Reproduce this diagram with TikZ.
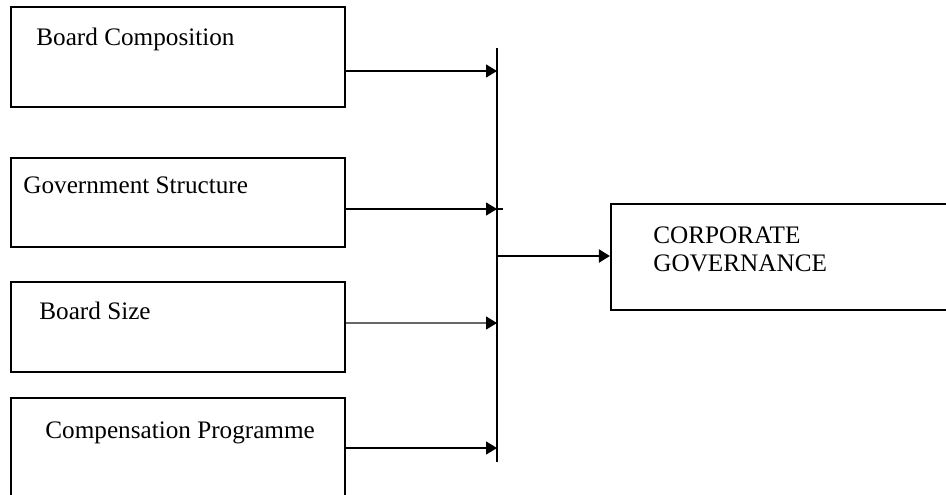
\documentclass[tikz,border=0pt]{standalone}
\usepackage{fontspec}
\setmainfont{Liberation Serif}
\usetikzlibrary{arrows.meta}

\begin{document}
\begin{tikzpicture}[x=0.5pt, y=-0.5pt,
    box/.style={draw, line width=0.6pt, minimum width=167pt, inner sep=0pt},
    lbl/.style={anchor=base west, inner sep=0pt, font=\fontsize{12.6}{14}\selectfont},
    feed/.style={-{Triangle[length=5.5pt,width=6.5pt,color=black]}, line width=0.7pt}]
    \useasboundingbox (0,0) rectangle (946,494);

    % Factors
    \node[box, minimum height=50pt] (comp) at (178,57) {};
    \node[box, minimum height=44.5pt] (govt) at (178,202.5) {};
    \node[box, minimum height=45pt] (size) at (178,327) {};
    \node[box, minimum height=50pt] (prog) at (178,448) {};
    \node[lbl] (compt) at (36,45) {Board Composition};
    \node[lbl] (govtt) at (23,193) {Government Structure};
    \node[lbl] (sizet) at (39,319) {Board Size};
    \node[lbl] (progt) at (45,438) {Compensation Programme};

    % Outcome
    \node[draw, line width=1.1pt, minimum width=179.5pt, minimum height=53pt, inner sep=0pt] (cg) at (790.5,257) {};
    \node[lbl, anchor=north west, align=left] (cgt) at (653,226) {CORPORATE\\GOVERNANCE};

    % Bus line
    \coordinate (bt) at (497,48);
    \coordinate (bb) at (497,462);
    \coordinate (i1) at (497,71);
    \coordinate (i2) at (497,209);
    \coordinate (i3) at (497,323);
    \coordinate (i4) at (497,448);
    \coordinate (o) at (497,256);
    \draw[line width=0.6pt] (bt) -- (bb);

    % Arrows
    \draw[feed] (comp.east |- i1) -- (i1);
    \draw[feed] (govt.east |- i2) -- (i2);
    \draw[line width=0.6pt] (i2) -- ++(6,0);
    \draw[feed, black!60] (size.east |- i3) -- (i3);
    \draw[feed] (prog.east |- i4) -- (i4);
    \draw[feed, line width=1.1pt] (o) -- (cg.west |- o);
\end{tikzpicture}
\end{document}
